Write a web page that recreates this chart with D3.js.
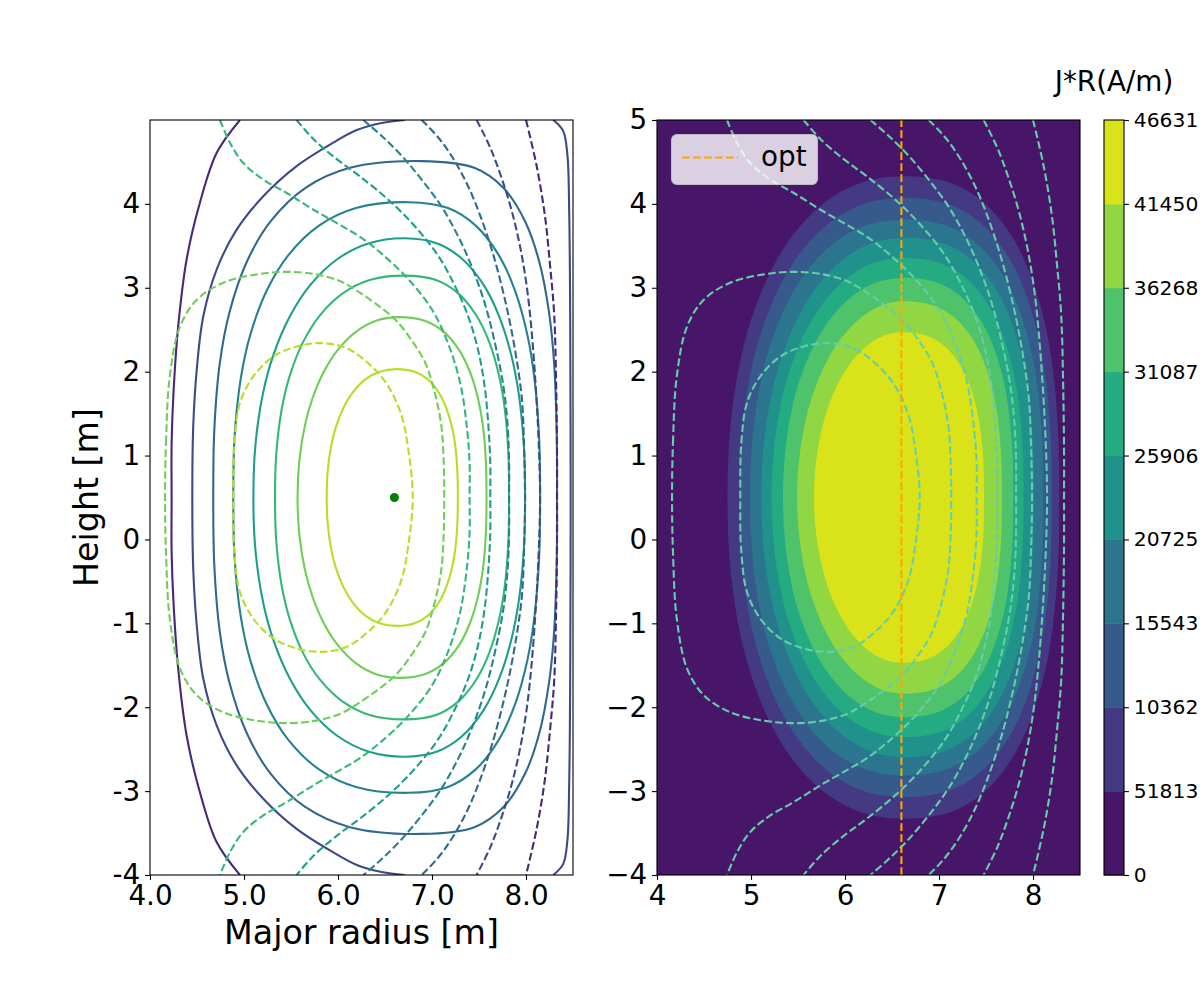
<!DOCTYPE html>
<html><head><meta charset="utf-8">
<script src="https://cdn.jsdelivr.net/npm/d3@7"></script>
<style>body{margin:0;background:#fff}svg{display:block;font-family:"DejaVu Sans",sans-serif}</style>
</head><body><svg id="c" width="1200" height="1000"></svg>
<script>
// ---------------- data (R [m], Z [m]) ----------------
const xTicksLeft = [4, 5, 6, 7, 8];
const xTickLabelsLeft = ["4.0", "5.0", "6.0", "7.0", "8.0"];
const yTicksLeft = [-4, -3, -2, -1, 0, 1, 2, 3, 4];
const yTickLabelsLeft = ["-4", "-3", "-2", "-1", "0", "1", "2", "3", "4"];
const xTicksRight = [4, 5, 6, 7, 8];
const xTickLabelsRight = ["4", "5", "6", "7", "8"];
const yTicksRight = [-4, -3, -2, -1, 0, 1, 2, 3, 4, 5];
const yTickLabelsRight = ["\u22124", "\u22123", "\u22122", "\u22121", "0", "1", "2", "3", "4", "5"];
const cbLevels = [0, 51813, 103625, 155438, 207251, 259064, 310876, 362689, 414502, 466314];
// labels as they appear (cut by the figure edge in the reference)
const cbLabels = ["0", "51813", "10362", "15543", "20725", "25906", "31087", "36268", "41450", "46631"];
const magneticAxis = [6.6, 0.5];
const optR = 6.6;

// solid flux contours (inner -> outer)
const psi1 = [[5.88,0.5],[5.89,0.806],[5.927,1.112],[5.978,1.342],[6.059,1.571],[6.159,1.755],[6.291,1.908],[6.442,1.999],[6.62,2.03],[6.816,1.999],[6.956,1.908],[7.07,1.755],[7.15,1.571],[7.212,1.342],[7.248,1.112],[7.27,0.806],[7.275,0.5],[7.27,0.194],[7.248,-0.112],[7.212,-0.342],[7.15,-0.571],[7.07,-0.755],[6.956,-0.908],[6.816,-0.999],[6.62,-1.03],[6.442,-0.999],[6.291,-0.908],[6.159,-0.755],[6.059,-0.571],[5.978,-0.342],[5.927,-0.112],[5.89,0.194]];
const psi2 = [[5.57,0.5],[5.588,0.93],[5.648,1.36],[5.729,1.683],[5.852,2.005],[6.0,2.263],[6.193,2.478],[6.405,2.607],[6.64,2.65],[6.922,2.607],[7.122,2.478],[7.286,2.263],[7.401,2.005],[7.489,1.683],[7.541,1.36],[7.573,0.93],[7.58,0.5],[7.573,0.07],[7.541,-0.36],[7.489,-0.683],[7.401,-1.005],[7.286,-1.263],[7.122,-1.478],[6.922,-1.607],[6.64,-1.65],[6.405,-1.607],[6.193,-1.478],[6.0,-1.263],[5.852,-1.005],[5.729,-0.683],[5.648,-0.36],[5.588,0.07]];
const psi3 = [[5.33,0.5],[5.344,1.029],[5.402,1.558],[5.488,1.955],[5.628,2.352],[5.806,2.669],[6.05,2.933],[6.337,3.092],[6.71,3.145],[7.043,3.092],[7.279,2.933],[7.472,2.669],[7.609,2.352],[7.713,1.955],[7.774,1.558],[7.812,1.029],[7.82,0.5],[7.812,-0.029],[7.774,-0.558],[7.713,-0.955],[7.609,-1.352],[7.472,-1.669],[7.279,-1.933],[7.043,-2.092],[6.71,-2.145],[6.337,-2.092],[6.05,-1.933],[5.806,-1.669],[5.628,-1.352],[5.488,-0.955],[5.402,-0.558],[5.344,-0.029]];
const psi4 = [[5.10,0.5],[5.121,1.118],[5.201,1.736],[5.313,2.20],[5.49,2.663],[5.706,3.034],[5.995,3.343],[6.323,3.528],[6.71,3.59],[7.056,3.528],[7.322,3.343],[7.549,3.034],[7.713,2.663],[7.843,2.20],[7.923,1.736],[7.977,1.118],[7.99,0.5],[7.977,-0.118],[7.923,-0.736],[7.843,-1.20],[7.713,-1.663],[7.549,-2.034],[7.322,-2.343],[7.056,-2.528],[6.71,-2.59],[6.323,-2.528],[5.995,-2.343],[5.706,-2.034],[5.49,-1.663],[5.313,-1.20],[5.201,-0.736],[5.121,-0.118]];
const psi5 = [[4.886,0.5],[4.899,1.204],[4.964,1.908],[5.066,2.436],[5.241,2.964],[5.47,3.386],[5.794,3.738],[6.191,3.95],[6.75,4.02],[7.17,3.95],[7.468,3.738],[7.712,3.386],[7.884,2.964],[8.015,2.436],[8.091,1.908],[8.14,1.204],[8.15,0.5],[8.14,-0.204],[8.091,-0.908],[8.015,-1.436],[7.884,-1.964],[7.712,-2.386],[7.468,-2.738],[7.17,-2.95],[6.75,-3.02],[6.191,-2.95],[5.794,-2.738],[5.47,-2.386],[5.241,-1.964],[5.066,-1.436],[4.964,-0.908],[4.899,-0.204]];
const psi6 = [[4.673,0.5],[4.684,1.302],[4.743,2.104],[4.845,2.706],[5.029,3.307],[5.28,3.788],[5.651,4.189],[6.127,4.43],[6.89,4.51],[7.45,4.43],[7.761,4.189],[7.992,3.788],[8.142,3.307],[8.245,2.706],[8.299,2.104],[8.326,1.302],[8.33,0.5],[8.326,-0.302],[8.299,-1.104],[8.245,-1.706],[8.142,-2.307],[7.992,-2.788],[7.761,-3.189],[7.45,-3.43],[6.89,-3.51],[6.127,-3.43],[5.651,-3.189],[5.28,-2.788],[5.029,-2.307],[4.845,-1.706],[4.743,-1.104],[4.684,-0.302]];
const psi7Left = [[6.71,5.0],[6.465,4.965],[6.2,4.88],[5.95,4.73],[5.56,4.45],[5.205,4.09],[4.92,3.69],[4.71,3.22],[4.567,2.66],[4.497,2.02],[4.46,1.35],[4.45,0.5],[4.46,-0.35],[4.497,-1.02],[4.567,-1.66],[4.71,-2.22],[4.92,-2.69],[5.205,-3.09],[5.56,-3.45],[5.95,-3.73],[6.2,-3.88],[6.465,-3.965],[6.71,-4.0]];
const psi7Right = [[8.29,5.0],[8.395,4.87],[8.44,4.59],[8.46,3.87],[8.47,2.68],[8.475,0.5],[8.47,-1.68],[8.46,-2.87],[8.44,-3.59],[8.395,-3.87],[8.29,-4.0]];
const psi8Left = [[4.957,5.0],[4.71,4.61],[4.53,4.01],[4.39,3.34],[4.30,2.54],[4.25,1.75],[4.23,1.15],[4.23,0.5],[4.23,-0.15],[4.25,-0.75],[4.30,-1.54],[4.39,-2.34],[4.53,-3.01],[4.71,-3.61],[4.957,-4.0]];

// dashed contours (inner -> outer)
const dash1 = [[4.886,0.5],[4.897,1.15],[4.957,1.627],[5.099,1.944],[5.312,2.18],[5.561,2.30],[5.827,2.34],[6.093,2.28],[6.358,2.063],[6.535,1.825],[6.678,1.47],[6.748,1.07],[6.795,0.5],[6.748,-0.07],[6.678,-0.47],[6.535,-0.825],[6.358,-1.063],[6.093,-1.28],[5.827,-1.34],[5.561,-1.30],[5.312,-1.18],[5.099,-0.944],[4.957,-0.627],[4.897,-0.15]];
const dash2 = [[4.16,0.5],[4.17,1.15],[4.21,1.94],[4.32,2.54],[4.50,2.86],[4.78,3.06],[5.135,3.16],[5.455,3.19],[5.77,3.16],[6.02,3.08],[6.18,2.98],[6.39,2.82],[6.61,2.62],[6.78,2.38],[6.93,2.10],[7.03,1.745],[7.10,1.35],[7.125,0.91],[7.13,0.5],[7.125,0.09],[7.10,-0.35],[7.03,-0.745],[6.93,-1.10],[6.78,-1.38],[6.61,-1.62],[6.39,-1.82],[6.18,-1.98],[6.02,-2.08],[5.77,-2.16],[5.455,-2.19],[5.135,-2.16],[4.78,-2.06],[4.50,-1.86],[4.32,-1.54],[4.21,-0.94],[4.17,-0.15]];
const dash3 = [[4.745,5.0],[4.85,4.73],[4.99,4.49],[5.205,4.29],[5.455,4.13],[5.74,3.93],[6.02,3.75],[6.23,3.61],[6.46,3.41],[6.75,3.10],[7.00,2.74],[7.17,2.34],[7.30,1.865],[7.37,1.35],[7.40,0.91],[7.40,0.5],[7.40,0.09],[7.37,-0.35],[7.30,-0.865],[7.17,-1.34],[7.00,-1.74],[6.75,-2.10],[6.46,-2.41],[6.23,-2.61],[6.02,-2.75],[5.74,-2.93],[5.455,-3.13],[5.205,-3.29],[4.99,-3.49],[4.85,-3.73],[4.745,-4.0]];
const dash4 = [[5.56,5.0],[5.74,4.77],[5.99,4.53],[6.23,4.33],[6.535,4.05],[6.82,3.73],[7.07,3.375],[7.245,3.02],[7.385,2.66],[7.49,2.26],[7.56,1.825],[7.60,1.35],[7.62,0.91],[7.62,0.5],[7.62,0.09],[7.60,-0.35],[7.56,-0.825],[7.49,-1.26],[7.385,-1.66],[7.245,-2.02],[7.07,-2.375],[6.82,-2.73],[6.535,-3.05],[6.23,-3.33],[5.99,-3.53],[5.74,-3.77],[5.56,-4.0]];
const dash5 = [[6.27,5.0],[6.465,4.81],[6.68,4.57],[6.89,4.29],[7.10,3.97],[7.28,3.61],[7.42,3.26],[7.56,2.82],[7.67,2.34],[7.76,1.825],[7.805,1.35],[7.82,0.91],[7.82,0.5],[7.82,0.09],[7.805,-0.35],[7.76,-0.825],[7.67,-1.34],[7.56,-1.82],[7.42,-2.26],[7.28,-2.61],[7.10,-2.97],[6.89,-3.29],[6.68,-3.57],[6.465,-3.81],[6.27,-4.0]];
const dash6 = [[6.89,5.0],[7.06,4.80],[7.22,4.55],[7.38,4.22],[7.51,3.87],[7.65,3.40],[7.78,2.84],[7.88,2.28],[7.955,1.69],[7.98,1.09],[7.99,0.5],[7.98,-0.09],[7.955,-0.69],[7.88,-1.28],[7.78,-1.84],[7.65,-2.40],[7.51,-2.87],[7.38,-3.22],[7.22,-3.55],[7.06,-3.80],[6.89,-4.0]];
const dash7 = [[7.475,5.0],[7.62,4.67],[7.74,4.31],[7.85,3.91],[7.94,3.475],[8.01,3.0],[8.06,2.48],[8.10,1.885],[8.13,1.29],[8.15,0.5],[8.13,-0.29],[8.10,-0.885],[8.06,-1.48],[8.01,-2.0],[7.94,-2.475],[7.85,-2.91],[7.74,-3.31],[7.62,-3.67],[7.475,-4.0]];
const dash8 = [[8.0,5.0],[8.11,4.47],[8.20,3.87],[8.255,3.28],[8.30,2.68],[8.32,1.885],[8.33,1.09],[8.33,0.5],[8.33,-0.09],[8.32,-0.885],[8.30,-1.68],[8.255,-2.28],[8.20,-2.87],[8.11,-3.47],[8.0,-4.0]];

// filled J*R level boundaries (outer level 1 -> inner level 8)
const band1 = [[4.75,0.5],[4.775,1.266],[4.868,2.032],[4.998,2.607],[5.203,3.181],[5.454,3.641],[5.79,4.024],[6.17,4.253],[6.62,4.33],[7.118,4.253],[7.471,4.024],[7.76,3.641],[7.964,3.181],[8.12,2.607],[8.211,2.032],[8.268,1.266],[8.28,0.5],[8.268,-0.266],[8.211,-1.032],[8.12,-1.607],[7.964,-2.181],[7.76,-2.641],[7.471,-3.024],[7.118,-3.253],[6.62,-3.33],[6.17,-3.253],[5.79,-3.024],[5.454,-2.641],[5.203,-2.181],[4.998,-1.607],[4.868,-1.032],[4.775,-0.266]];
const band2 = [[4.875,0.5],[4.898,1.214],[4.985,1.928],[5.106,2.464],[5.297,2.999],[5.532,3.427],[5.845,3.784],[6.2,3.999],[6.62,4.07],[7.094,3.999],[7.43,3.784],[7.705,3.427],[7.899,2.999],[8.047,2.464],[8.134,1.928],[8.189,1.214],[8.20,0.5],[8.189,-0.214],[8.134,-0.928],[8.047,-1.464],[7.899,-1.999],[7.705,-2.427],[7.43,-2.784],[7.094,-2.999],[6.62,-3.07],[6.2,-2.999],[5.845,-2.784],[5.532,-2.427],[5.297,-1.999],[5.106,-1.464],[4.985,-0.928],[4.898,-0.214]];
const band3 = [[4.99,0.5],[5.012,1.162],[5.093,1.824],[5.206,2.321],[5.384,2.817],[5.604,3.214],[5.896,3.545],[6.228,3.744],[6.62,3.81],[7.067,3.744],[7.384,3.545],[7.643,3.214],[7.826,2.817],[7.966,2.321],[8.048,1.824],[8.099,1.162],[8.11,0.5],[8.099,-0.162],[8.048,-0.824],[7.966,-1.321],[7.826,-1.817],[7.643,-2.214],[7.384,-2.545],[7.067,-2.744],[6.62,-2.81],[6.228,-2.744],[5.896,-2.545],[5.604,-2.214],[5.384,-1.817],[5.206,-1.321],[5.093,-0.824],[5.012,-0.162]];
const band4 = [[5.11,0.5],[5.135,1.119],[5.22,1.738],[5.334,2.202],[5.509,2.667],[5.717,3.038],[5.989,3.347],[6.288,3.533],[6.62,3.595],[7.037,3.533],[7.333,3.347],[7.575,3.038],[7.745,2.667],[7.876,2.202],[7.952,1.738],[8.0,1.119],[8.01,0.5],[8.0,-0.119],[7.952,-0.738],[7.876,-1.202],[7.745,-1.667],[7.575,-2.038],[7.333,-2.347],[7.037,-2.533],[6.62,-2.595],[6.288,-2.533],[5.989,-2.347],[5.717,-2.038],[5.509,-1.667],[5.334,-1.202],[5.22,-0.738],[5.135,-0.119]];
const band5 = [[5.22,0.5],[5.244,1.071],[5.322,1.642],[5.428,2.071],[5.59,2.499],[5.783,2.842],[6.035,3.128],[6.312,3.299],[6.62,3.356],[7.004,3.299],[7.276,3.128],[7.499,2.842],[7.656,2.499],[7.776,2.071],[7.846,1.642],[7.891,1.071],[7.90,0.5],[7.891,-0.071],[7.846,-0.642],[7.776,-1.071],[7.656,-1.499],[7.499,-1.842],[7.276,-2.128],[7.004,-2.299],[6.62,-2.356],[6.312,-2.299],[6.035,-2.128],[5.783,-1.842],[5.59,-1.499],[5.428,-1.071],[5.322,-0.642],[5.244,-0.071]];
const band6 = [[5.34,0.5],[5.362,1.024],[5.433,1.547],[5.53,1.94],[5.678,2.333],[5.855,2.647],[6.085,2.909],[6.338,3.066],[6.62,3.118],[6.971,3.066],[7.22,2.909],[7.424,2.647],[7.567,2.333],[7.677,1.94],[7.741,1.547],[7.782,1.024],[7.79,0.5],[7.782,-0.024],[7.741,-0.547],[7.677,-0.94],[7.567,-1.333],[7.424,-1.647],[7.22,-1.909],[6.971,-2.066],[6.62,-2.118],[6.338,-2.066],[6.085,-1.909],[5.855,-1.647],[5.678,-1.333],[5.53,-0.94],[5.433,-0.547],[5.362,-0.024]];
const band7 = [[5.49,0.5],[5.513,0.968],[5.584,1.436],[5.676,1.787],[5.813,2.138],[5.973,2.419],[6.177,2.653],[6.395,2.793],[6.62,2.84],[6.935,2.793],[7.158,2.653],[7.341,2.419],[7.47,2.138],[7.569,1.787],[7.626,1.436],[7.662,0.968],[7.67,0.5],[7.662,0.032],[7.626,-0.436],[7.569,-0.787],[7.47,-1.138],[7.341,-1.419],[7.158,-1.653],[6.935,-1.793],[6.62,-1.84],[6.395,-1.793],[6.177,-1.653],[5.973,-1.419],[5.813,-1.138],[5.676,-0.787],[5.584,-0.436],[5.513,0.032]];
const band8 = [[5.67,0.5],[5.689,0.894],[5.748,1.288],[5.823,1.584],[5.936,1.879],[6.068,2.115],[6.236,2.312],[6.415,2.431],[6.60,2.47],[6.864,2.431],[7.051,2.312],[7.204,2.115],[7.313,1.879],[7.395,1.584],[7.443,1.288],[7.474,0.894],[7.48,0.5],[7.474,0.106],[7.443,-0.288],[7.395,-0.584],[7.313,-0.879],[7.204,-1.115],[7.051,-1.312],[6.864,-1.431],[6.60,-1.47],[6.415,-1.431],[6.236,-1.312],[6.068,-1.115],[5.936,-0.879],[5.823,-0.584],[5.748,-0.288],[5.689,0.106]];

// ---------------- drawing ----------------
const solidSet = [
  {pts: psi1, closed: true, lev: 8}, {pts: psi2, closed: true, lev: 7},
  {pts: psi3, closed: true, lev: 6}, {pts: psi4, closed: true, lev: 5},
  {pts: psi5, closed: true, lev: 4}, {pts: psi6, closed: true, lev: 3},
  {pts: psi7Left, closed: false, lev: 2}, {pts: psi7Right, closed: false, lev: 2},
  {pts: psi8Left, closed: false, lev: 1}
];
const dashSet = [
  {pts: dash1, closed: true, lev: 8}, {pts: dash2, closed: true, lev: 7},
  {pts: dash3, closed: false, lev: 6}, {pts: dash4, closed: false, lev: 5},
  {pts: dash5, closed: false, lev: 4}, {pts: dash6, closed: false, lev: 3},
  {pts: dash7, closed: false, lev: 2}, {pts: dash8, closed: false, lev: 1}
];
const bandSet = [band1, band2, band3, band4, band5, band6, band7, band8];

const FS_TICK = 27.8, FS_LABEL = 33.3, FS_CB = 20.3;
const svg = d3.select("#c");
const defs = svg.append("defs");
const yTop = 120, yBot = 875;
const y = d3.scaleLinear().domain([-4, 5]).range([yBot, yTop]);
const xL = d3.scaleLinear().domain([4, 8.5]).range([150, 573]);
const xR = d3.scaleLinear().domain([4, 8.5]).range([657, 1080]);

function clip(id, xs) {
  defs.append("clipPath").attr("id", id).append("rect")
    .attr("x", xs.range()[0]).attr("y", yTop)
    .attr("width", xs.range()[1] - xs.range()[0]).attr("height", yBot - yTop);
}
clip("clipL", xL); clip("clipR", xR);

function gen(xs, closed) {
  return d3.line().x(d => xs(d[0])).y(d => y(d[1]))
    .curve(closed ? d3.curveCatmullRomClosed.alpha(0.5) : d3.curveCatmullRom.alpha(0.5));
}
const col = lev => d3.interpolateViridis(lev / 9);
const DASH = "7.7,3.3";

// ---- left panel ----
const gL = svg.append("g").attr("clip-path", "url(#clipL)");
gL.selectAll("path.solid").data(solidSet).join("path").attr("class", "solid")
  .attr("d", d => gen(xL, d.closed)(d.pts)).attr("fill", "none")
  .attr("stroke", d => col(d.lev)).attr("stroke-width", 2.1);
gL.selectAll("path.dash").data(dashSet).join("path").attr("class", "dash")
  .attr("d", d => gen(xL, d.closed)(d.pts)).attr("fill", "none")
  .attr("stroke", d => col(d.lev)).attr("stroke-width", 2.1)
  .attr("stroke-dasharray", DASH);
gL.append("circle").attr("cx", xL(magneticAxis[0])).attr("cy", y(magneticAxis[1]))
  .attr("r", 4.5).attr("fill", "green");

// ---- right panel ----
const gR = svg.append("g").attr("clip-path", "url(#clipR)");
gR.append("rect").attr("x", xR(4)).attr("y", y(5)).attr("width", xR(8.5) - xR(4))
  .attr("height", y(-4) - y(5)).attr("fill", d3.interpolateViridis(0.5 / 9));
gR.selectAll("path.band").data(bandSet).join("path").attr("class", "band")
  .attr("d", d => gen(xR, true)(d)).attr("fill", (d, i) => d3.interpolateViridis((i + 1.5) / 9))
  .attr("stroke", "none");
gR.selectAll("path.dash").data(dashSet).join("path").attr("class", "dash")
  .attr("d", d => gen(xR, d.closed)(d.pts)).attr("fill", "none")
  .attr("stroke", "#66cdaa").attr("stroke-width", 2.1).attr("stroke-dasharray", DASH);
gR.append("line").attr("x1", xR(optR)).attr("x2", xR(optR)).attr("y1", y(-4)).attr("y2", y(5))
  .attr("stroke", "orange").attr("stroke-width", 2.1).attr("stroke-dasharray", DASH);

// legend
const lg = svg.append("g");
lg.append("rect").attr("x", 671.5).attr("y", 134.5).attr("width", 146).attr("height", 50)
  .attr("rx", 5.5).attr("fill", "white").attr("fill-opacity", 0.8)
  .attr("stroke", "#cccccc").attr("stroke-opacity", 0.8).attr("stroke-width", 1.1);
lg.append("line").attr("x1", 682).attr("x2", 738).attr("y1", 157.5).attr("y2", 157.5)
  .attr("stroke", "orange").attr("stroke-width", 2.1).attr("stroke-dasharray", DASH);
lg.append("text").attr("x", 761).attr("y", 166).attr("font-size", FS_TICK).text("opt");

// ---- axes ----
function styleAxis(g) {
  g.select(".domain").remove();
  g.selectAll(".tick line").attr("stroke", "black").attr("stroke-width", 1.1);
  g.selectAll(".tick text").attr("font-size", FS_TICK).attr("fill", "black")
    .attr("font-family", "DejaVu Sans");
}
function frame(xs) {
  svg.append("rect").attr("x", xs.range()[0]).attr("y", yTop)
    .attr("width", xs.range()[1] - xs.range()[0]).attr("height", yBot - yTop)
    .attr("fill", "none").attr("stroke", "black").attr("stroke-width", 1.1);
}
svg.append("g").attr("transform", `translate(0,${yBot})`)
  .call(d3.axisBottom(xL).tickValues(xTicksLeft).tickFormat((d, i) => xTickLabelsLeft[i]).tickSize(4.9).tickPadding(4.9))
  .call(styleAxis);
svg.append("g").attr("transform", `translate(${xL.range()[0]},0)`)
  .call(d3.axisLeft(y).tickValues(yTicksLeft).tickFormat((d, i) => yTickLabelsLeft[i]).tickSize(4.9).tickPadding(4.9))
  .call(styleAxis);
svg.append("g").attr("transform", `translate(0,${yBot})`)
  .call(d3.axisBottom(xR).tickValues(xTicksRight).tickFormat((d, i) => xTickLabelsRight[i]).tickSize(4.9).tickPadding(4.9))
  .call(styleAxis);
svg.append("g").attr("transform", `translate(${xR.range()[0]},0)`)
  .call(d3.axisLeft(y).tickValues(yTicksRight).tickFormat((d, i) => yTickLabelsRight[i]).tickSize(4.9).tickPadding(4.9))
  .call(styleAxis);
frame(xL); frame(xR);

svg.append("text").attr("x", 361.5).attr("y", 944).attr("text-anchor", "middle")
  .attr("font-size", FS_LABEL).text("Major radius [m]");
svg.append("text").attr("transform", "translate(98,497.5) rotate(-90)").attr("text-anchor", "middle")
  .attr("font-size", FS_LABEL).text("Height [m]");

// ---- colorbar ----
const cbX0 = 1104, cbX1 = 1124;
const cbY = d3.scaleLinear().domain([cbLevels[0], cbLevels[cbLevels.length - 1]]).range([yBot, yTop]);
const cb = svg.append("g");
cb.selectAll("rect.b").data(d3.range(cbLevels.length - 1)).join("rect").attr("class", "b")
  .attr("x", cbX0).attr("width", cbX1 - cbX0)
  .attr("y", i => cbY(cbLevels[i + 1])).attr("height", i => cbY(cbLevels[i]) - cbY(cbLevels[i + 1]) + 0.5)
  .attr("fill", i => d3.interpolateViridis((i + 0.5) / 9));
cb.append("rect").attr("x", cbX0).attr("y", yTop).attr("width", cbX1 - cbX0).attr("height", yBot - yTop)
  .attr("fill", "none").attr("stroke", "black").attr("stroke-width", 1.1);
svg.append("g").attr("transform", `translate(${cbX1},0)`)
  .call(d3.axisRight(cbY).tickValues(cbLevels).tickFormat((d, i) => cbLabels[i]).tickSize(4.9).tickPadding(4.9))
  .call(styleAxis).call(g => g.selectAll(".tick text").attr("font-size", FS_CB));
svg.append("text").attr("x", 1114).attr("y", 91).attr("text-anchor", "middle")
  .attr("font-size", FS_TICK).text("J*R(A/m)");
</script></body></html>
